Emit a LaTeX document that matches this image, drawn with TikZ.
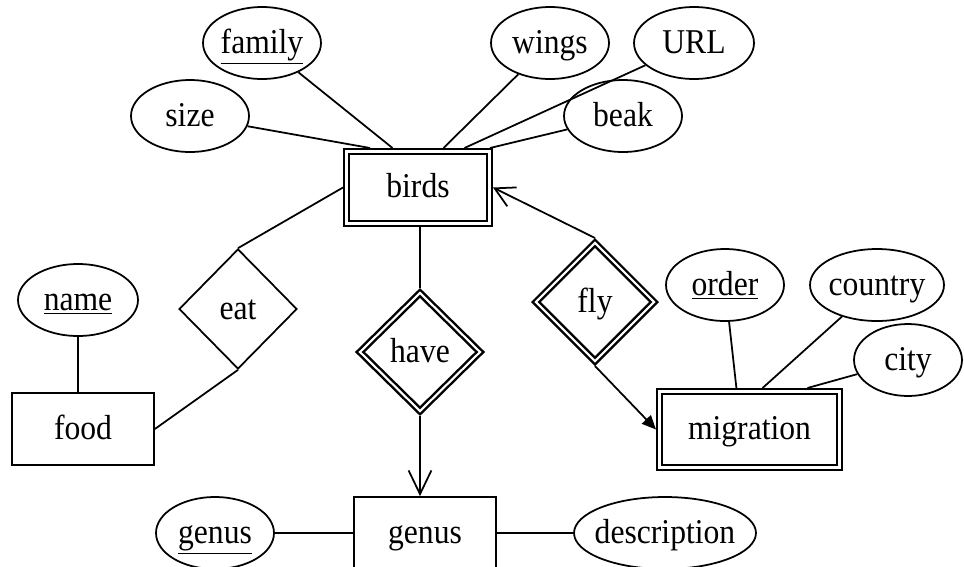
\documentclass[tikz,border=0pt]{standalone}
\usepackage{fontspec}
\usepackage{graphicx}
\setmainfont{Liberation Serif}
\usetikzlibrary{shapes.geometric,arrows.meta,calc}
\newcommand{\lb}[1]{\makebox[0pt]{\scalebox{1}[1.1]{#1}}}
\newcommand{\key}[1]{\lb{\underline{#1}}}

\begin{document}
\begin{tikzpicture}[x=0.02cm,y=-0.02cm,line width=1pt,
  every node/.style={font=\fontsize{18}{22}\selectfont,text height=11.5pt,text depth=0pt},
  attr/.style={ellipse,draw,inner sep=0pt,minimum width=2.36cm,minimum height=1.44cm},
  entity/.style={rectangle,draw,inner sep=0pt,minimum width=2.84cm,minimum height=1.44cm},
  rel/.style={diamond,draw,inner sep=0pt,minimum width=2.36cm,minimum height=2.4cm},
  weak/.style={double,line width=1.4pt,double distance=1.2pt,outer sep=2pt}]
  \useasboundingbox (0,0) rectangle (964,566);
  % entities
  \node[entity,weak,minimum width=2.86cm] (birds) at (418,187.5) {\lb{birds}};
  \node[entity] (food) at (83,429) {\lb{food}};
  \node[entity,weak,minimum width=3.6cm,minimum height=1.52cm] (migration) at (749.5,429.5) {\lb{migration}};
  \node[entity] (genusbox) at (425,533) {\lb{genus}};
  % relationships
  \node[rel] (eat) at (238,309) {\lb{eat}};
  \node[rel,weak,minimum width=2.46cm,minimum height=2.42cm] (have) at (420,352) {\lb{have}};
  \node[rel,weak,minimum width=2.42cm,minimum height=2.42cm] (fly) at (595,302) {\lb{fly}};
  % attributes
  \node[attr] (family) at (262,43) {\key{family}};
  \node[attr] (size) at (190,116) {\lb{size}};
  \node[attr] (wings) at (550,43) {\lb{wings}};
  \node[attr,minimum width=2.4cm] (url) at (694,43) {\lb{URL}};
  \node[attr] (beak) at (623,116) {\lb{beak}};
  \node[attr,minimum width=2.4cm] (name) at (78,300) {\key{name}};
  \node[attr] (order) at (725,285) {\key{order}};
  \node[attr,minimum width=2.68cm] (country) at (877,285) {\lb{country}};
  \node[attr,minimum width=2.16cm] (city) at (908,360) {\lb{city}};
  \node[attr] (genuskey) at (215,533) {\key{genus}};
  \node[attr,minimum width=3.64cm] (desc) at (665,533) {\lb{description}};
  % attribute links
  \draw (size) -- ($(birds.north west)!0.18!(birds.north east)$);
  \draw (family) -- ($(birds.north west)!0.33!(birds.north east)$);
  \draw (wings) -- ($(birds.north west)!0.67!(birds.north east)$);
  \draw (url) -- ($(birds.north west)!0.81!(birds.north east)$);
  \draw (beak) -- ($(birds.north west)!0.98!(birds.north east)$);
  \draw (name) -- (name |- food.north);
  \draw (order) -- ($(migration.north west)!0.43!(migration.north east)$);
  \draw (country) -- ($(migration.north west)!0.57!(migration.north east)$);
  \draw (city) -- ($(migration.north west)!0.81!(migration.north east)$);
  \draw (genuskey) -- (genusbox);
  \draw (genusbox) -- (desc);
  % relationship links
  \draw (eat.north) -- (birds.west);
  \draw (eat.south) -- (food.east);
  \draw (have.north) -- (have.north |- birds.south);
  \draw[-{Straight Barb[length=13.5pt,width=13pt]}] (have.south) -- (have.south |- genusbox.north);
  \draw[-{Straight Barb[length=11pt,width=12pt]}] (fly.north) -- (birds.east);
  \draw[-{Triangle[length=8pt,width=7pt]}] (fly.south) -- (migration.west);
\end{tikzpicture}
\end{document}
